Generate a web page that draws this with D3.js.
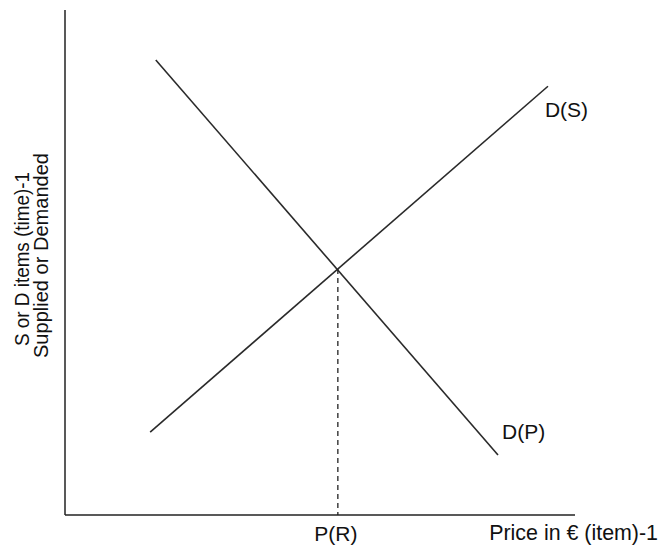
<!DOCTYPE html>
<html>
<head>
<meta charset="utf-8">
<script src="https://cdn.jsdelivr.net/npm/d3@7"></script>
<style>
  body { margin: 0; background: #fff; }
  text { font-family: "Liberation Sans", Arial, sans-serif; fill: #111; }
</style>
</head>
<body>
<div id="chart-area"></div>
<script>
// curve end points in data units (0..100 on both axes)
var demand = [{x: 17.8, y: 90.1}, {x: 84.9, y: 11.9}];
var supply = [{x: 16.7, y: 16.4}, {x: 94.7, y: 84.9}];
var equilibrium = {x: 53.5, y: 48.7};
var curveLabels = [
    {text: "D(S)", x: 94.1, y: 78.8},
    {text: "D(P)", x: 85.7, y: 15.0}
];
var xTitle = "Price in \u20ac (item)-1";
var yTitle = ["S or D items (time)-1", "Supplied or Demanded"];
var eqLabel = "P(R)";

var width = 659, height = 548;
var margin = {left: 65, right: 84, top: 10, bottom: 33};

var svg = d3.select("#chart-area").append("svg")
    .attr("width", width)
    .attr("height", height);

var x = d3.scaleLinear().domain([0, 100]).range([margin.left, width - margin.right]);
var y = d3.scaleLinear().domain([0, 100]).range([height - margin.bottom, margin.top]);

// axes as bare lines
svg.append("line")
    .attr("x1", x(0)).attr("y1", y(0))
    .attr("x2", x(0)).attr("y2", y(100))
    .attr("stroke", "#222").attr("stroke-width", 1.5);
svg.append("line")
    .attr("x1", x(0)).attr("y1", y(0))
    .attr("x2", x(100)).attr("y2", y(0))
    .attr("stroke", "#222").attr("stroke-width", 1.5);

var line = d3.line()
    .x(function(d) { return x(d.x); })
    .y(function(d) { return y(d.y); });

svg.selectAll("path.curve")
    .data([demand, supply])
    .enter()
    .append("path")
    .attr("class", "curve")
    .attr("d", line)
    .attr("fill", "none")
    .attr("stroke", "#2a2a2a")
    .attr("stroke-width", 1.6);

// dashed drop line from equilibrium
svg.append("line")
    .attr("x1", x(equilibrium.x)).attr("y1", y(equilibrium.y))
    .attr("x2", x(equilibrium.x)).attr("y2", y(0))
    .attr("stroke", "#222")
    .attr("stroke-width", 1.3)
    .attr("stroke-dasharray", "5,4");

// curve labels
svg.selectAll("text.curve-label")
    .data(curveLabels)
    .enter()
    .append("text")
    .attr("class", "curve-label")
    .attr("x", function(d) { return x(d.x); })
    .attr("y", function(d) { return y(d.y); })
    .attr("font-size", 21)
    .text(function(d) { return d.text; });

svg.append("text")
    .attr("x", x(equilibrium.x) - 2)
    .attr("y", 541)
    .attr("text-anchor", "middle")
    .attr("font-size", 21)
    .text(eqLabel);

svg.append("text")
    .attr("x", 658)
    .attr("y", 540)
    .attr("text-anchor", "end")
    .attr("font-size", 21.4)
    .text(xTitle);

// y title, two rotated lines fitted to the lengths seen in the original
var yTitleLen = [174, 205];
var yTitleMid = [259, 255.5];
svg.selectAll("text.y-title")
    .data(yTitle)
    .enter()
    .append("text")
    .attr("class", "y-title")
    .attr("text-anchor", "middle")
    .attr("font-size", 21)
    .attr("textLength", function(d, i) { return yTitleLen[i]; })
    .attr("lengthAdjust", "spacingAndGlyphs")
    .attr("transform", function(d, i) {
        return "translate(" + (29 + i * 19) + "," + yTitleMid[i] + ") rotate(-90)";
    })
    .text(function(d) { return d; });
</script>
</body>
</html>
